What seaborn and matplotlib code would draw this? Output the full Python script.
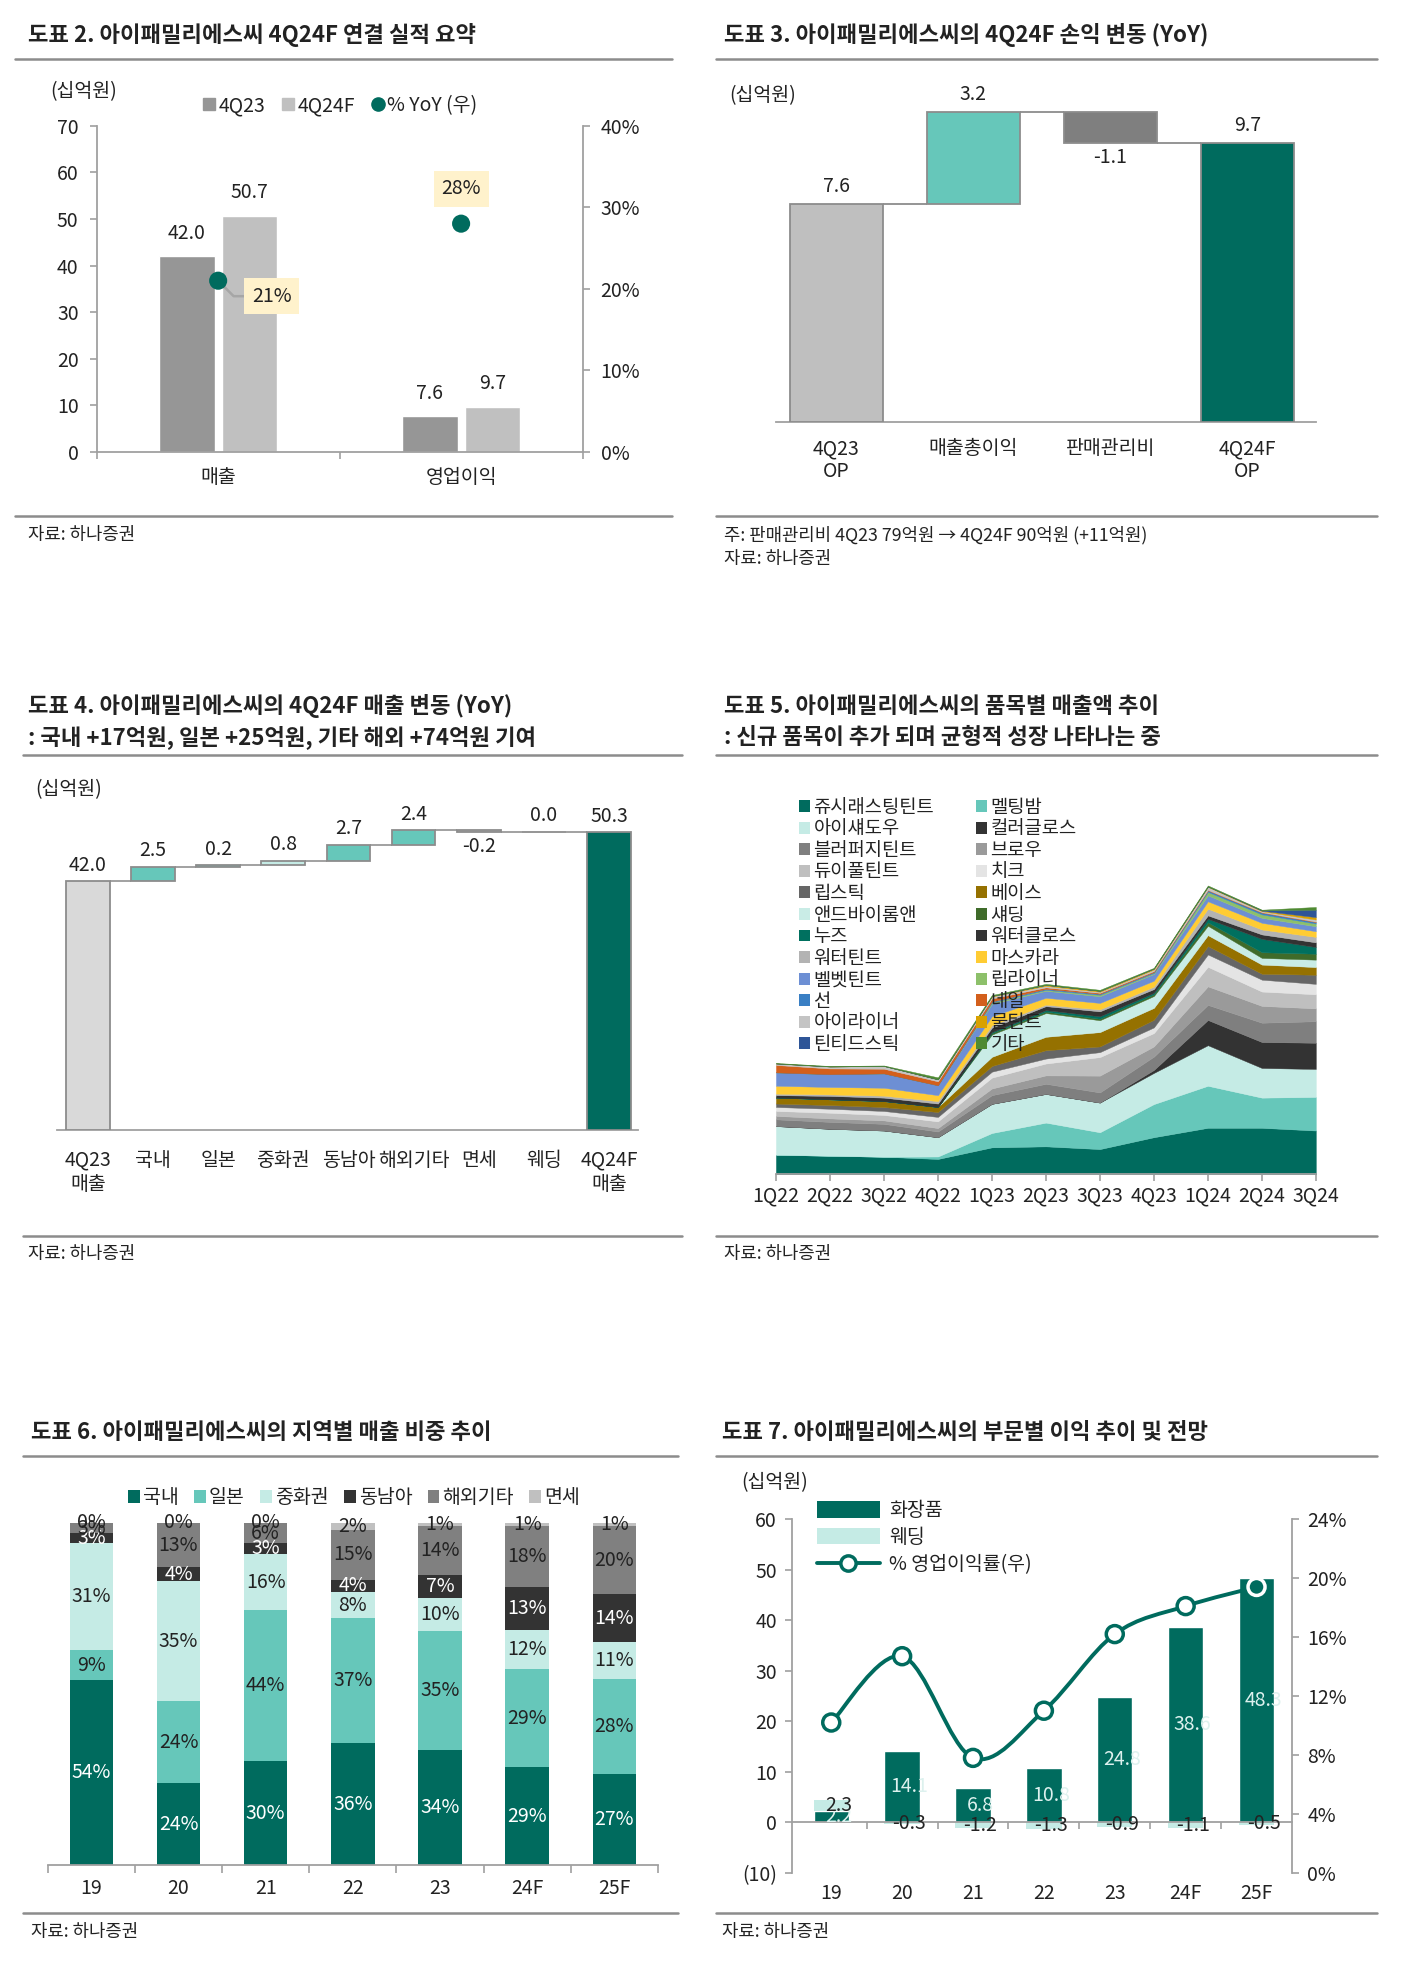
import numpy as np
import pandas as pd
import matplotlib
matplotlib.use("Agg")
import matplotlib.pyplot as plt
import seaborn as sns
from matplotlib.lines import Line2D
from matplotlib.patches import Patch, PathPatch
from matplotlib.path import Path

# ======================= DATA =======================
# 도표 2
sum_categories = ["매출", "영업이익"]
sum_4q23 = [42.0, 7.6]
sum_4q24f = [50.7, 9.7]
sum_yoy = [21, 28]

# 도표 3
op_labels = ["4Q23\nOP", "매출총이익", "판매관리비", "4Q24F\nOP"]
op_values = [7.6, 3.2, -1.1, 9.7]
op_kinds = ["total", "delta", "delta", "total"]

# 도표 4
rev_labels = ["4Q23\n매출", "국내", "일본", "중화권", "동남아", "해외기타", "면세", "웨딩", "4Q24F\n매출"]
rev_values = [42.0, 2.5, 0.2, 0.8, 2.7, 2.4, -0.2, 0.0, 50.3]
rev_kinds = ["total", "delta", "delta", "delta", "delta", "delta", "delta", "delta", "total"]

# 도표 5
quarters = ["1Q22", "2Q22", "3Q22", "4Q22", "1Q23", "2Q23", "3Q23", "4Q23", "1Q24", "2Q24", "3Q24"]
juicy_tint = [3.95, 3.75, 3.55, 3.1, 5.45, 5.65, 5.1, 7.5, 9.4, 9.4, 8.85]
melting_balm = [0, 0, 0, 0.5, 2.9, 4.8, 3.4, 6.7, 8.5, 6.1, 6.8]
eyeshadow = [5.8, 5.45, 5.3, 3.9, 5.9, 5.8, 6.0, 6.3, 8.2, 6.0, 5.65]
color_gloss = [0, 0, 0, 0, 0, 0, 0, 0.6, 5.1, 5.25, 5.3]
blur_fudge_tint = [1.36, 1.4, 1.35, 1.15, 1.75, 2.05, 2.05, 2.7, 3.05, 3.9, 4.35]
brow = [0.7, 0.7, 0.7, 0.7, 1.35, 1.7, 3.4, 2.05, 3.75, 3.4, 2.6]
dewyful_tint = [1.0, 1.15, 1.1, 1.35, 2.2, 2.4, 3.75, 2.7, 3.95, 2.9, 2.85]
cheek = [0.8, 0.8, 0.8, 0.9, 1.2, 1.0, 1.0, 1.15, 2.5, 2.4, 2.1]
lipstick = [0.7, 0.75, 0.8, 1.0, 1.15, 1.7, 1.15, 1.55, 1.7, 1.2, 1.85]
base = [1.2, 1.15, 1.2, 1.0, 1.85, 2.7, 2.9, 2.4, 2.2, 1.85, 1.55]
andbyromand = [0, 0, 0, 0, 4.5, 4.8, 2.4, 2.4, 1.9, 1.35, 1.5]
shading = [0, 0, 0, 0, 0.3, 0.3, 0.3, 0.35, 0.7, 1.15, 1.2]
nuse = [0, 0, 0, 0, 0.2, 0.3, 0.5, 0.3, 0.7, 2.7, 1.35]
water_gloss = [0.5, 0.7, 0.7, 0.7, 0.9, 0.8, 1.0, 0.75, 0.7, 0.9, 0.95]
water_tint = [0.3, 0.3, 0.4, 0.5, 0.5, 0.3, 0.4, 0.5, 1.35, 1.0, 1.1]
mascara = [1.6, 1.5, 1.6, 1.2, 1.8, 1.4, 1.3, 1.2, 1.5, 1.35, 1.15]
velvet_tint = [2.7, 2.6, 2.9, 2.0, 2.5, 1.4, 1.35, 1.35, 1.2, 1.0, 1.0]
lip_liner = [0, 0, 0, 0, 0.3, 0.2, 0.3, 0.2, 0.7, 0.7, 0.55]
sun = [0, 0, 0, 0, 0.2, 0.2, 0.2, 0.2, 0.3, 0.35, 0.3]
nail = [1.5, 1.15, 0.95, 0.8, 0.6, 0.3, 0.2, 0.2, 0.1, 0.1, 0.1]
eyeliner = [0.3, 0.4, 0.55, 0.4, 0.4, 0.3, 0.2, 0.3, 0.6, 0.2, 0.4]
mul_tint = [0, 0, 0, 0, 0.1, 0.2, 0.2, 0.2, 0.1, 0.1, 0.5]
tinted_stick = [0, 0, 0, 0, 0, 0, 0, 0, 0, 0.1, 1.5]
others = [0.1, 0.1, 0.1, 0.4, 0.2, 0.2, 0.2, 0.15, 0.2, 0.1, 0.55]

# 도표 6
years = ["19", "20", "21", "22", "23", "24F", "25F"]
share_domestic = [54, 24, 30.4, 35.6, 33.7, 28.6, 26.8]
share_japan = [9, 24, 44.2, 36.6, 34.6, 28.6, 27.7]
share_china = [31, 35, 16.2, 7.6, 9.8, 11.6, 10.8]
share_sea = [3, 4, 3.2, 3.6, 6.8, 12.6, 13.8]
share_other = [3, 13, 6.0, 14.6, 14.1, 17.6, 19.9]
share_dutyfree = [0, 0, 0, 2.0, 1.0, 1.0, 1.0]

# 도표 7
op_cosmetics = [2.2, 14.1, 6.8, 10.8, 24.8, 38.6, 48.3]
op_wedding = [2.3, -0.3, -1.2, -1.3, -0.9, -1.1, -0.5]
op_margin = [10.2, 14.7, 7.8, 11.0, 16.2, 18.1, 19.4]

# ======================= STYLE =======================
sns.set_theme(style="white")
plt.rcParams["font.family"] = ["Noto Sans CJK KR", "DejaVu Sans"]
plt.rcParams["axes.unicode_minus"] = False

TEAL_D = "#006B5E"
TEAL_M = "#66C7BA"
TEAL_L = "#C5EBE5"
GREY_D = "#969696"
GREY_L = "#C0C0C0"
SPINE = "#A0A0A0"
RULE = "#8C8C8C"
TXT = "#222222"
FS = 14
TFS = 16
SFS = 12.8

W, H = 1123.0, 1566.0


def FX(x):
    return x / W


def FY(y):
    return 1.0 - y / H


fig = plt.figure(figsize=(14.1, 19.71), dpi=100)
fig.patch.set_facecolor("white")


def add_ax(x0, y0, x1, y1, **kw):
    return fig.add_axes([FX(x0), FY(y1), FX(x1) - FX(x0), FY(y0) - FY(y1)], **kw)


def rule(x0, x1, y):
    fig.add_artist(Line2D([FX(x0), FX(x1)], [FY(y), FY(y)], transform=fig.transFigure,
                          color=RULE, lw=1.8))


def ftext(x, y, s, **kw):
    kw.setdefault("va", "center")
    kw.setdefault("ha", "left")
    kw.setdefault("color", TXT)
    fig.text(FX(x), FY(y), s, **kw)


def clean(ax, keep=("bottom",)):
    for side in ["top", "bottom", "left", "right"]:
        ax.spines[side].set_visible(side in keep)
        ax.spines[side].set_color(SPINE)
        ax.spines[side].set_linewidth(1.3)
    ax.set_facecolor("none")


def waterfall_geometry(values, kinds):
    bottoms, heights, levels = [], [], []
    running = 0.0
    for v, k in zip(values, kinds):
        if k == "total":
            bottoms.append(0.0)
            heights.append(v)
            running = v
        else:
            bottoms.append(running if v >= 0 else running + v)
            heights.append(abs(v))
            running += v
        levels.append(running)
    return np.array(bottoms), np.array(heights), np.array(levels)


# ======================= HEADERS / RULES =======================
ftext(22, 28, "도표 2. 아이패밀리에스씨 4Q24F 연결 실적 요약", fontsize=TFS, fontweight="bold")
ftext(577, 28, "도표 3. 아이패밀리에스씨의 4Q24F 손익 변동 (YoY)", fontsize=TFS, fontweight="bold")
ftext(22, 561, "도표 4. 아이패밀리에스씨의 4Q24F 매출 변동 (YoY)", fontsize=TFS, fontweight="bold")
ftext(22, 586, ": 국내 +17억원, 일본 +25억원, 기타 해외 +74억원 기여", fontsize=TFS, fontweight="bold")
ftext(577, 561, "도표 5. 아이패밀리에스씨의 품목별 매출액 추이", fontsize=TFS, fontweight="bold")
ftext(577, 586, ": 신규 품목이 추가 되며 균형적 성장 나타나는 중", fontsize=TFS, fontweight="bold")
ftext(25, 1138, "도표 6. 아이패밀리에스씨의 지역별 매출 비중 추이", fontsize=TFS, fontweight="bold")
ftext(575, 1138, "도표 7. 아이패밀리에스씨의 부문별 이익 추이 및 전망", fontsize=TFS, fontweight="bold")

for (x0, x1) in [(12, 535), (570, 1097)]:
    rule(x0, x1, 47)
    rule(x0, x1, 410)
for (x0, x1) in [(18, 543), (570, 1097)]:
    rule(x0, x1, 600)
    rule(x0, x1, 982)
for (x0, x1) in [(18, 540), (570, 1097)]:
    rule(x0, x1, 1157)
    rule(x0, x1, 1520)

ftext(22, 425, "자료: 하나증권", fontsize=SFS)
ftext(577, 425, "주: 판매관리비 4Q23 79억원 → 4Q24F 90억원 (+11억원)", fontsize=SFS)
ftext(577, 444, "자료: 하나증권", fontsize=SFS)
ftext(22, 996, "자료: 하나증권", fontsize=SFS)
ftext(577, 996, "자료: 하나증권", fontsize=SFS)
ftext(25, 1535, "자료: 하나증권", fontsize=SFS)
ftext(575, 1535, "자료: 하나증권", fontsize=SFS)

# ======================= 도표 2 =======================
ax2 = add_ax(77, 100, 464, 359)
df2 = pd.DataFrame({"항목": sum_categories * 2,
                    "기간": ["4Q23"] * len(sum_categories) + ["4Q24F"] * len(sum_categories),
                    "값": sum_4q23 + sum_4q24f})
sns.barplot(data=df2, x="항목", y="값", hue="기간", hue_order=["4Q23", "4Q24F"],
            palette=[GREY_D, GREY_L], width=0.513, gap=0.11, saturation=1,
            errorbar=None, legend=False, ax=ax2)
for cont in ax2.containers:
    ax2.bar_label(cont, fmt="%.1f", padding=9, fontsize=FS, color=TXT)
clean(ax2, keep=("bottom", "left"))
ax2.set_ylim(0, 70)
ax2.set_yticks(range(0, 71, 10))
ax2.set_xlabel("")
ax2.set_ylabel("")
ax2.set_xticks([-0.5, 0.5, 1.5], minor=True)
ax2.tick_params(axis="x", which="major", length=0, pad=11, labelsize=FS, labelcolor=TXT)
ax2.tick_params(axis="x", which="minor", bottom=True, length=5, color=SPINE, width=1.2)
ax2.tick_params(axis="y", left=True, length=5, color=SPINE, width=1.2, pad=8,
                labelsize=FS, labelcolor=TXT)

ax2r = ax2.twinx()
clean(ax2r, keep=("right",))
sns.scatterplot(x=[0, 1], y=sum_yoy, ax=ax2r, color=TEAL_D, s=170, edgecolor="none",
                zorder=5, legend=False)
ax2r.set_ylim(0, 40)
ax2r.set_yticks(range(0, 41, 10))
ax2r.set_yticklabels([f"{t}%" for t in range(0, 41, 10)])
ax2r.tick_params(axis="y", right=True, length=5, color=SPINE, width=1.2, pad=8,
                 labelsize=FS, labelcolor=TXT)
ax2r.set_ylabel("")
ax2.set_xlim(-0.5, 1.5)
ax2r.set_xlim(-0.5, 1.5)
box = dict(boxstyle="square,pad=0.4", fc="#FFF2CC", ec="none")
ax2r.annotate(f"{sum_yoy[0]}%", xy=(0, sum_yoy[0]), xytext=(0.22, sum_yoy[0] - 1.9),
              textcoords="data", ha="center", va="center", fontsize=FS, color=TXT, bbox=box,
              arrowprops=dict(arrowstyle="-", color="#A6A6A6", lw=1.8, shrinkA=0, shrinkB=6,
                              connectionstyle="angle,angleA=0,angleB=-45,rad=0"))
ax2r.annotate(f"{sum_yoy[1]}%", xy=(1, sum_yoy[1]), xytext=(0, 25), textcoords="offset points",
              ha="center", va="center", fontsize=FS, color=TXT, bbox=box)
ftext(67, 73, "(십억원)", fontsize=FS, ha="center")
leg2 = [Line2D([], [], ls="", marker="s", ms=8.5, color=GREY_D),
        Line2D([], [], ls="", marker="s", ms=8.5, color=GREY_L),
        Line2D([], [], ls="", marker="o", ms=9.5, color=TEAL_D)]
fig.legend(leg2, ["4Q23", "4Q24F", "% YoY (우)"], loc="center",
           bbox_to_anchor=(FX(270), FY(84)), ncol=3, frameon=False, fontsize=FS,
           handletextpad=0.05, columnspacing=0.7, handlelength=0.9, labelcolor=TXT)

# ======================= 도표 3 =======================
ax3 = add_ax(618, 73, 1048, 335)
b3, h3, lv3 = waterfall_geometry(op_values, op_kinds)
x3 = np.arange(len(op_values))
ax3.bar(x3, h3, bottom=b3, width=0.68,
        color=["#BFBFBF", TEAL_M, "#7F7F7F", TEAL_D],
        edgecolor="#8C8C8C", linewidth=1.3, zorder=3)
ax3.hlines(lv3[:-1], x3[:-1] + 0.34, x3[1:] - 0.34, color="#8C8C8C", lw=1.3, zorder=2)
for xi, v, k, b, h in zip(x3, op_values, op_kinds, b3, h3):
    if v >= 0:
        ax3.annotate(f"{v:.1f}", (xi, b + h), xytext=(0, 5), textcoords="offset points",
                     ha="center", va="bottom", fontsize=FS, color=TXT)
    else:
        ax3.annotate(f"{v:.1f}", (xi, b), xytext=(0, -3), textcoords="offset points",
                     ha="center", va="top", fontsize=FS, color=TXT)
clean(ax3)
ax3.set_xlim(-0.44, 3.5)
ax3.set_ylim(0, 11.49)
ax3.set_yticks([])
ax3.set_xticks(x3)
ax3.set_xticklabels(op_labels, linespacing=1.1)
ax3.tick_params(axis="x", length=0, pad=12, labelsize=FS, labelcolor=TXT)
ftext(607, 76, "(십억원)", fontsize=FS, ha="center")

# ======================= 도표 4 =======================
ax4 = add_ax(45, 640, 508, 898)
b4, h4, lv4 = waterfall_geometry(rev_values, rev_kinds)
x4 = np.arange(len(rev_values))
col4 = ["#D9D9D9", TEAL_M, TEAL_M, TEAL_L, TEAL_M, TEAL_M, "#BFBFBF", "#BFBFBF", TEAL_D]
ax4.bar(x4, h4, bottom=b4, width=0.67, color=col4, edgecolor="#8C8C8C", linewidth=1.3, zorder=3)
ax4.hlines(lv4[:-1], x4[:-1] + 0.335, x4[1:] - 0.335, color="#9A9A9A", lw=1.3, zorder=2)
for xi, v, b, h in zip(x4, rev_values, b4, h4):
    if v >= 0:
        ax4.annotate(f"{v:.1f}", (xi, b + h), xytext=(0, 4), textcoords="offset points",
                     ha="center", va="bottom", fontsize=FS, color=TXT)
    else:
        ax4.annotate(f"{v:.1f}", (xi, b), xytext=(0, -3), textcoords="offset points",
                     ha="center", va="top", fontsize=FS, color=TXT)
clean(ax4)
ax4.set_xlim(-0.48, 8.44)
ax4.set_ylim(0, 54.8)
ax4.set_yticks([])
ax4.set_xticks(x4)
ax4.set_xticklabels(rev_labels, linespacing=1.2)
ax4.tick_params(axis="x", length=0, pad=14, labelsize=FS, labelcolor=TXT)
ftext(55, 627, "(십억원)", fontsize=FS, ha="center")

# ======================= 도표 5 =======================
products = [
    ("쥬시래스팅틴트", juicy_tint, "#006B5E"),
    ("멜팅밤", melting_balm, "#66C7BA"),
    ("아이섀도우", eyeshadow, "#C5EBE5"),
    ("컬러글로스", color_gloss, "#333333"),
    ("블러퍼지틴트", blur_fudge_tint, "#7F7F7F"),
    ("브로우", brow, "#9A9A9A"),
    ("듀이풀틴트", dewyful_tint, "#BFBFBF"),
    ("치크", cheek, "#E4E4E4"),
    ("립스틱", lipstick, "#666666"),
    ("베이스", base, "#957100"),
    ("앤드바이롬앤", andbyromand, "#C9ECE6"),
    ("섀딩", shading, "#3F6B2A"),
    ("누즈", nuse, "#00705F"),
    ("워터클로스", water_gloss, "#333333"),
    ("워터틴트", water_tint, "#B3B3B3"),
    ("마스카라", mascara, "#FFCC33"),
    ("벨벳틴트", velvet_tint, "#6D8FD4"),
    ("립라이너", lip_liner, "#8DC06A"),
    ("선", sun, "#3A7FC4"),
    ("네일", nail, "#D35F1C"),
    ("아이라이너", eyeliner, "#C4C4C4"),
    ("물틴트", mul_tint, "#D8A100"),
    ("틴티드스틱", tinted_stick, "#2E5597"),
    ("기타", others, "#4F8A32"),
]
ax5 = add_ax(618, 632, 1048, 933)
x5 = np.arange(len(quarters))
ax5.stackplot(x5, *[p[1] for p in products], colors=[p[2] for p in products],
              edgecolor="face", linewidth=0.3)
clean(ax5)
ax5.set_xlim(0, len(quarters) - 1)
ax5.set_ylim(0, 76.6)
ax5.set_yticks([])
ax5.set_xticks(x5)
ax5.set_xticklabels(quarters)
ax5.tick_params(axis="x", bottom=True, length=5, color=SPINE, width=1.2, pad=3,
                labelsize=FS, labelcolor=TXT)
handles5 = [Patch(facecolor=c, edgecolor="none") for (_, _, c) in products]
names5 = [n for (n, _, _) in products]
order5 = list(range(0, len(products), 2)) + list(range(1, len(products), 2))
ax5.legend([handles5[i] for i in order5], [names5[i] for i in order5], ncol=2,
           loc="upper left", bbox_to_anchor=(FX(636), FY(633)), bbox_transform=fig.transFigure,
           frameon=False, fontsize=13.5, labelspacing=0.03, handlelength=0.6, handleheight=0.6,
           handletextpad=0.2, columnspacing=2.2, borderpad=0, borderaxespad=0, labelcolor=TXT)

# ======================= 도표 6 =======================
ax6 = add_ax(38, 1210, 524, 1482)
regions = [("국내", share_domestic, TEAL_D, "white"),
           ("일본", share_japan, TEAL_M, TXT),
           ("중화권", share_china, TEAL_L, TXT),
           ("동남아", share_sea, "#333333", "white"),
           ("해외기타", share_other, "#808080", TXT),
           ("면세", share_dutyfree, "#C0C0C0", TXT)]
x6 = np.arange(len(years))
bottom6 = np.zeros(len(years))
for name, vals, col, tcol in regions:
    vals = np.array(vals, dtype=float)
    ax6.bar(x6, vals, bottom=bottom6, width=0.5, color=col, linewidth=0, zorder=2)
    for xi, v, b in zip(x6, vals, bottom6):
        ax6.text(xi, b + v / 2, f"{v:.0f}%", ha="center", va="center", fontsize=FS,
                 color=tcol, zorder=3)
    bottom6 = bottom6 + vals
clean(ax6)
ax6.set_xlim(-0.5, len(years) - 0.5)
ax6.set_ylim(0, 100)
ax6.set_yticks([])
ax6.set_xticks(x6)
ax6.set_xticklabels(years)
ax6.set_xticks(np.arange(-0.5, len(years), 1), minor=True)
ax6.tick_params(axis="x", which="major", length=0, pad=9, labelsize=FS, labelcolor=TXT)
ax6.tick_params(axis="x", which="minor", bottom=True, length=6, color=SPINE, width=1.2)
leg6 = [Patch(facecolor=c, edgecolor="none") for (_, _, c, _) in regions]
fig.legend(leg6, [r[0] for r in regions], loc="center", bbox_to_anchor=(FX(282), FY(1190)),
           ncol=6, frameon=False, fontsize=FS, handlelength=0.6, handleheight=0.6,
           handletextpad=0.15, columnspacing=0.8, labelcolor=TXT)

# ======================= 도표 7 =======================
ax7 = add_ax(631, 1207, 1029, 1488)
x7 = np.arange(len(years))
df7 = pd.DataFrame({"연도": years, "화장품": op_cosmetics})
sns.barplot(data=df7, x="연도", y="화장품", color=TEAL_D, saturation=1, width=0.5,
            errorbar=None, ax=ax7, zorder=2)
wed = np.array(op_wedding)
cos = np.array(op_cosmetics)
wed_bottom = np.where(wed > 0, cos, 0.0)
ax7.bar(x7, wed, bottom=wed_bottom, width=0.5, color=TEAL_L, linewidth=0, zorder=2)
for xi, v in zip(x7, cos):
    ax7.text(xi + 0.1, v / 2, f"{v:.1f}", ha="center", va="center", fontsize=FS,
             color="#DDF1EE", zorder=4)
for xi, v, b in zip(x7, wed, wed_bottom):
    ax7.text(xi + 0.1, b + v / 2, f"{v:.1f}", ha="center", va="center", fontsize=FS,
             color=TXT, zorder=4)
clean(ax7, keep=("bottom", "left"))
ax7.spines["bottom"].set_position(("data", 0))
ax7.set_xlim(-0.55, len(years) - 0.5)
ax7.set_ylim(-10, 60)
ax7.set_yticks(range(-10, 61, 10))
ax7.set_yticklabels(["(10)" if t < 0 else f"{t}" for t in range(-10, 61, 10)])
ax7.set_xlabel("")
ax7.set_ylabel("")
ax7.set_xticks(x7)
ax7.set_xticklabels(years)
ax7.set_xticks(np.arange(0.5, len(years) - 0.5, 1), minor=True)
ax7.tick_params(axis="x", which="major", length=0, pad=44, labelsize=FS, labelcolor=TXT)
ax7.tick_params(axis="x", which="minor", bottom=True, length=5, color=SPINE, width=1.2)
ax7.tick_params(axis="y", left=True, length=5, color=SPINE, width=1.2, pad=6,
                labelsize=FS, labelcolor=TXT)

ax7r = ax7.twinx()
clean(ax7r, keep=("right",))
ax7r.set_ylim(0, 24)
ax7r.set_yticks(range(0, 25, 4))
ax7r.set_yticklabels([f"{t}%" for t in range(0, 25, 4)])
ax7r.tick_params(axis="y", right=True, length=5, color=SPINE, width=1.2, pad=6,
                 labelsize=FS, labelcolor=TXT)


def smooth_path(xs, ys, t=1.0 / 6.0):
    P = np.column_stack([xs, ys]).astype(float)
    n = len(P)
    verts = [P[0]]
    codes = [Path.MOVETO]
    for i in range(n - 1):
        p0 = P[i - 1] if i > 0 else P[i]
        p1 = P[i]
        p2 = P[i + 1]
        p3 = P[i + 2] if i + 2 < n else P[i + 1]
        verts += [p1 + (p2 - p0) * t, p2 - (p3 - p1) * t, p2]
        codes += [Path.CURVE4] * 3
    return Path(verts, codes)


ax7r.add_patch(PathPatch(smooth_path(x7, op_margin), fill=False, edgecolor=TEAL_D, lw=2.8,
                         zorder=3))
fcs = ["white"] * (len(years) - 1) + [TEAL_D]
ecs = [TEAL_D] * (len(years) - 1) + ["white"]
ax7r.scatter(x7, op_margin, s=150, facecolors=fcs, edgecolors=ecs, linewidths=2.5, zorder=4)
ax7r.set_xlim(-0.55, len(years) - 0.5)
ftext(617, 1178, "(십억원)", fontsize=FS, ha="center")
leg7 = [Patch(facecolor=TEAL_D, edgecolor="none"),
        Patch(facecolor=TEAL_L, edgecolor="none"),
        Line2D([], [], color=TEAL_D, lw=2.8, marker="o", ms=11, mfc="white", mec=TEAL_D, mew=2.5)]
ax7r.legend(leg7, ["화장품", "웨딩", "% 영업이익률(우)"], loc="upper left",
            bbox_to_anchor=(FX(651), FY(1192)), bbox_transform=fig.transFigure, frameon=False,
            fontsize=FS, handlelength=3.2, handleheight=0.9, labelspacing=0.3,
            handletextpad=0.5, borderpad=0, borderaxespad=0, labelcolor=TXT)

fig.savefig("out.png", dpi=100, facecolor="white")
